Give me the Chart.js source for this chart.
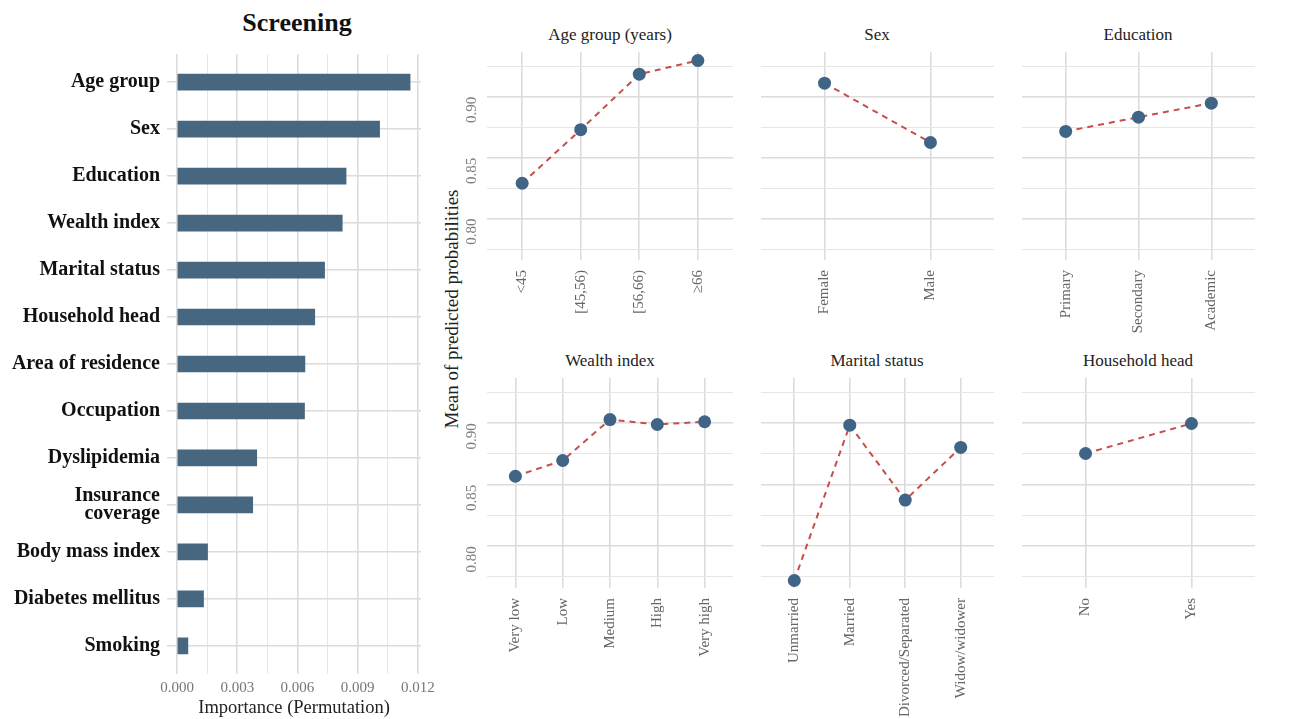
<!DOCTYPE html>
<html>
<head>
<meta charset="utf-8">
<script src="https://cdn.jsdelivr.net/npm/chart.js@4.4.1/dist/chart.umd.min.js"></script>
<style>
  body { margin: 0; background: #fff; width: 1290px; height: 719px; overflow: hidden; position: relative;
         font-family: "Liberation Serif", "Times New Roman", serif; }
  canvas { position: absolute; }
  .ttl { position: absolute; width: 400px; text-align: center; color: #222; white-space: nowrap; }
</style>
</head>
<body>
<div class="ttl" style="left:97px; top:8px; font-size:26px; line-height:30px; font-weight:bold; color:#111;">Screening</div>
<div class="ttl" style="left:410px; top:25px; font-size:17px; line-height:20px;">Age group (years)</div>
<div class="ttl" style="left:677px; top:25px; font-size:17px; line-height:20px;">Sex</div>
<div class="ttl" style="left:938px; top:25px; font-size:17px; line-height:20px;">Education</div>
<div class="ttl" style="left:410px; top:351px; font-size:17px; line-height:20px;">Wealth index</div>
<div class="ttl" style="left:677px; top:351px; font-size:17px; line-height:20px;">Marital status</div>
<div class="ttl" style="left:938px; top:351px; font-size:17px; line-height:20px;">Household head</div>
<div class="ttl" style="left:252px; top:298px; font-size:19px; line-height:22px; transform:rotate(-90deg);">Mean of predicted probabilities</div>

<canvas id="bars"></canvas>
<canvas id="age"></canvas>
<canvas id="sex"></canvas>
<canvas id="edu"></canvas>
<canvas id="wealth"></canvas>
<canvas id="marital"></canvas>
<canvas id="head"></canvas>

<script>
// Data
const features = ['Age group', 'Sex', 'Education', 'Wealth index', 'Marital status', 'Household head',
  'Area of residence', 'Occupation', 'Dyslipidemia', ['Insurance', 'coverage'], 'Body mass index',
  'Diabetes mellitus', 'Smoking'];
const importance = [0.01161, 0.01009, 0.00842, 0.00823, 0.00735, 0.00686, 0.00637, 0.00635,
  0.00397, 0.00377, 0.00152, 0.00132, 0.00054];

const ageLabels = ['<45', '[45,56)', '[56,66)', '≥66'];
const ageMeans = [0.829, 0.873, 0.9186, 0.9298];
const sexLabels = ['Female', 'Male'];
const sexMeans = [0.9112, 0.8625];
const eduLabels = ['Primary', 'Secondary', 'Academic'];
const eduMeans = [0.8716, 0.8833, 0.8948];
const wealthLabels = ['Very low', 'Low', 'Medium', 'High', 'Very high'];
const wealthMeans = [0.8569, 0.8697, 0.903, 0.899, 0.9012];
const maritalLabels = ['Unmarried', 'Married', 'Divorced/Separated', 'Widow/widower'];
const maritalMeans = [0.7721, 0.8984, 0.8375, 0.8803];
const headLabels = ['No', 'Yes'];
const headMeans = [0.8754, 0.8998];

const SERIF = '"Liberation Serif", "Times New Roman", serif';
Chart.defaults.font.family = SERIF;

const GRID_MAJOR = '#dcdcdc';
const GRID_MINOR = '#e6e6e6';

function isMultiple(v, step) {
  const r = v / step;
  return Math.abs(r - Math.round(r)) < 1e-6;
}

function sizeCanvas(el, left, top, w, h) {
  el.width = w; el.height = h;
  el.style.left = left + 'px'; el.style.top = top + 'px';
  el.style.width = w + 'px'; el.style.height = h + 'px';
}

// Importance bar chart
const barsEl = document.getElementById('bars');
sizeCanvas(barsEl, 0, 0, 440, 719);
new Chart(barsEl, {
  type: 'bar',
  data: {
    datasets: [{
      data: importance.map((v, i) => ({ x: v, y: i })),
      backgroundColor: '#46677f',
      barThickness: 16,
      borderWidth: 0
    }]
  },
  options: {
    indexAxis: 'y',
    responsive: false,
    animation: false,
    events: [],
    layout: { autoPadding: false, padding: { top: 54, right: 15, left: 0, bottom: 0 } },
    plugins: { legend: { display: false }, tooltip: { enabled: false } },
    scales: {
      x: {
        type: 'linear',
        min: -0.0005,
        max: 0.01216,
        afterFit: s => { s.height = 45; },
        border: { display: false },
        grid: {
          drawTicks: false,
          color: c => (c.tick && isMultiple(c.tick.value, 0.003)) ? GRID_MAJOR : GRID_MINOR,
          lineWidth: c => (c.tick && isMultiple(c.tick.value, 0.003)) ? 1.6 : 1.0
        },
        ticks: {
          stepSize: 0.0015,
          includeBounds: false,
          autoSkip: false,
          maxRotation: 0,
          padding: 5,
          color: '#777',
          font: { size: 15 },
          callback: v => isMultiple(v, 0.003) ? v.toFixed(3) : ''
        },
        title: {
          display: true,
          text: 'Importance (Permutation)',
          color: '#222',
          font: { size: 18.5 },
          padding: 0
        }
      },
      y: {
        type: 'linear',
        min: -0.6,
        max: features.length - 0.4,
        reverse: true,
        offset: false,
        afterFit: s => { s.width = 167; },
        border: { display: false },
        grid: { offset: false, drawTicks: false, color: GRID_MAJOR, lineWidth: 1.6 },
        ticks: {
          stepSize: 1,
          includeBounds: false,
          autoSkip: false,
          padding: 7,
          color: '#111',
          font: { size: 20, weight: 'bold', lineHeight: 0.88 },
          callback: v => features[v] ?? ''
        }
      }
    }
  }
});

// Shared y range of the probability panels
const Y_MIN = 0.766;
const Y_MAX = 0.9368;

function panel(id, left, top, w, h, xh, labels, values, showY) {
  const yW = showY ? 30 : 0;
  const el = document.getElementById(id);
  sizeCanvas(el, left - yW, top, w + yW, h + xh);
  new Chart(el, {
    type: 'line',
    data: {
      datasets: [{
        data: values.map((v, i) => ({ x: i, y: v })),
        borderColor: '#c64f4c',
        borderWidth: 2,
        borderDash: [6, 5],
        tension: 0,
        fill: false,
        clip: false,
        pointRadius: 6.5,
        pointHoverRadius: 6.5,
        pointBorderWidth: 0,
        pointBackgroundColor: '#3f6485'
      }]
    },
    options: {
      responsive: false,
      animation: false,
      events: [],
      layout: { autoPadding: false, padding: 0 },
      plugins: { legend: { display: false }, tooltip: { enabled: false } },
      scales: {
        x: {
          type: 'linear',
          min: -0.6,
          max: labels.length - 0.4,
          afterFit: s => { s.height = xh; },
          border: { display: false },
          grid: { drawTicks: false, color: GRID_MAJOR, lineWidth: 1.6 },
          ticks: {
            stepSize: 1,
            includeBounds: false,
            autoSkip: false,
            minRotation: 90,
            maxRotation: 90,
            padding: 10,
            color: '#666',
            font: { size: 15 },
            callback: v => labels[v] ?? ''
          }
        },
        y: {
          min: Y_MIN,
          max: Y_MAX,
          afterFit: s => { s.width = yW; s.paddingTop = 0; s.paddingBottom = 0; },
          border: { display: false },
          grid: {
            drawTicks: false,
            color: c => (c.tick && isMultiple(c.tick.value, 0.05)) ? GRID_MAJOR : GRID_MINOR,
            lineWidth: c => (c.tick && isMultiple(c.tick.value, 0.05)) ? 1.6 : 1.0
          },
          ticks: {
            display: showY,
            stepSize: 0.025,
            includeBounds: false,
            crossAlign: 'near',
            minRotation: 90,
            maxRotation: 90,
            padding: 15,
            color: '#808080',
            font: { size: 15 },
            callback: v => isMultiple(v, 0.05) ? v.toFixed(2) : ''
          }
        }
      }
    }
  });
}

panel('age', 487, 52, 246, 208, 100, ageLabels, ageMeans, true);
panel('sex', 761, 52, 233, 208, 100, sexLabels, sexMeans, false);
panel('edu', 1022, 52, 233, 208, 100, eduLabels, eduMeans, false);
panel('wealth', 487, 378, 246, 210, 131, wealthLabels, wealthMeans, true);
panel('marital', 761, 378, 233, 210, 131, maritalLabels, maritalMeans, false);
panel('head', 1022, 378, 233, 210, 131, headLabels, headMeans, false);
</script>
</body>
</html>
